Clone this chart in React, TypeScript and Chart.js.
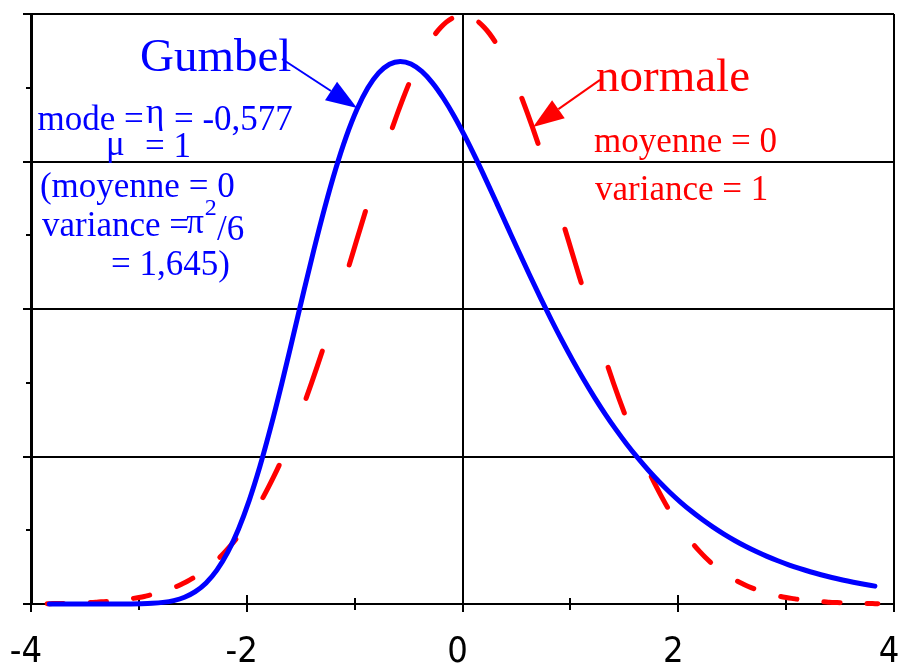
import React, { useEffect, useRef } from "react";
import { Chart, registerables } from "chart.js";

Chart.register(...registerables);

const BLUE = "#0000ff";
const RED = "#ff0000";
const CLEAR = "rgba(0,0,0,0)";
const SERIF = "'Liberation Serif', 'Times New Roman', serif";
const TICK_FONT = "'Liberation Sans Narrow', 'DejaVu Sans Condensed', 'Liberation Sans', Arial, sans-serif";

// Gumbel density (mode -0.577, scale 1)
const gumbelX = [
  -3.83, -3.777, -3.677, -3.577, -3.477, -3.377, -3.277, -3.177, -3.077, -2.977, -2.877,
  -2.777, -2.677, -2.577, -2.477, -2.377, -2.277, -2.177, -2.077, -1.977, -1.877,
  -1.777, -1.677, -1.577, -1.477, -1.377, -1.277, -1.177, -1.077, -0.977, -0.877,
  -0.777, -0.677, -0.577, -0.477, -0.377, -0.277, -0.177, -0.077, 0.023, 0.123,
  0.223, 0.323, 0.423, 0.523, 0.623, 0.723, 0.823, 0.923, 1.023, 1.123,
  1.223, 1.323, 1.423, 1.523, 1.623, 1.723, 1.823, 1.923, 2.023, 2.123,
  2.223, 2.323, 2.423, 2.523, 2.623, 2.723, 2.823, 2.923, 3.023, 3.123,
  3.223, 3.323, 3.423, 3.523, 3.623, 3.723, 3.823,
];
const gumbelY = [
  0, 0, 0, 0, 0, 0, 0.00001, 0.00002, 0.00006, 0.00018, 0.00047,
  0.00109, 0.00232, 0.00457, 0.00835, 0.01426, 0.02294, 0.03496, 0.0507, 0.07028, 0.09354,
  0.12003, 0.14895, 0.17938, 0.21025, 0.24036, 0.26876, 0.29462, 0.31705, 0.33557, 0.34997,
  0.36006, 0.36598, 0.36788, 0.36614, 0.36106, 0.35317, 0.34288, 0.33071, 0.31701, 0.30224,
  0.2867, 0.27075, 0.25465, 0.23862, 0.22287, 0.20753, 0.19271, 0.17851, 0.16499, 0.15218,
  0.14012, 0.12879, 0.11821, 0.10834, 0.09918, 0.09069, 0.08285, 0.07561, 0.06895, 0.06284,
  0.05722, 0.05208, 0.04737, 0.04307, 0.03913, 0.03555, 0.03227, 0.0293, 0.02658, 0.02412,
  0.02188, 0.01983, 0.01799, 0.0163, 0.01478, 0.01339, 0.01213,
];

// Normal density (mean 0, variance 1)
const normalX = [
  -3.85, -3.8, -3.75, -3.7, -3.65, -3.6, -3.55, -3.5, -3.45, -3.4, -3.35, -3.3, -3.25, -3.2,
  -3.15, -3.1, -3.05, -3, -2.95, -2.9, -2.85, -2.8, -2.75, -2.7, -2.65, -2.6, -2.55, -2.5,
  -2.45, -2.4, -2.35, -2.3, -2.25, -2.2, -2.15, -2.1, -2.05, -2, -1.95, -1.9, -1.85, -1.8,
  -1.75, -1.7, -1.65, -1.6, -1.55, -1.5, -1.45, -1.4, -1.35, -1.3, -1.25, -1.2, -1.15, -1.1,
  -1.05, -1, -0.95, -0.9, -0.85, -0.8, -0.75, -0.7, -0.65, -0.6, -0.55, -0.5, -0.45, -0.4,
  -0.35, -0.3, -0.25, -0.2, -0.15, -0.1, -0.05, 0, 0.05, 0.1, 0.15, 0.2, 0.25, 0.3,
  0.35, 0.4, 0.45, 0.5, 0.55, 0.6, 0.65, 0.7, 0.75, 0.8, 0.85, 0.9, 0.95, 1,
  1.05, 1.1, 1.15, 1.2, 1.25, 1.3, 1.35, 1.4, 1.45, 1.5, 1.55, 1.6, 1.65, 1.7,
  1.75, 1.8, 1.85, 1.9, 1.95, 2, 2.05, 2.1, 2.15, 2.2, 2.25, 2.3, 2.35, 2.4,
  2.45, 2.5, 2.55, 2.6, 2.65, 2.7, 2.75, 2.8, 2.85, 2.9, 2.95, 3, 3.05, 3.1,
  3.15, 3.2, 3.25, 3.3, 3.35, 3.4, 3.45, 3.5, 3.55, 3.6, 3.65, 3.7, 3.75, 3.8, 3.85,
];
const normalY = [
  0.0002, 0.0003, 0.0004, 0.0004, 0.0005, 0.0006, 0.0007, 0.0009, 0.001, 0.0012, 0.0015, 0.0017, 0.002, 0.0024,
  0.0028, 0.0033, 0.0038, 0.0044, 0.0051, 0.006, 0.0069, 0.0079, 0.0091, 0.0104, 0.0119, 0.0136, 0.0154, 0.0175,
  0.0198, 0.0224, 0.0252, 0.0283, 0.0317, 0.0355, 0.0396, 0.044, 0.0488, 0.054, 0.0596, 0.0656, 0.0721, 0.079,
  0.0863, 0.094, 0.1023, 0.1109, 0.12, 0.1295, 0.1394, 0.1497, 0.1604, 0.1714, 0.1826, 0.1942, 0.2059, 0.2179,
  0.2299, 0.242, 0.2541, 0.2661, 0.278, 0.2897, 0.3011, 0.3123, 0.323, 0.3332, 0.3429, 0.3521, 0.3605, 0.3683,
  0.3752, 0.3814, 0.3867, 0.391, 0.3945, 0.397, 0.3984, 0.3989, 0.3984, 0.397, 0.3945, 0.391, 0.3867, 0.3814,
  0.3752, 0.3683, 0.3605, 0.3521, 0.3429, 0.3332, 0.323, 0.3123, 0.3011, 0.2897, 0.278, 0.2661, 0.2541, 0.242,
  0.2299, 0.2179, 0.2059, 0.1942, 0.1826, 0.1714, 0.1604, 0.1497, 0.1394, 0.1295, 0.12, 0.1109, 0.1023, 0.094,
  0.0863, 0.079, 0.0721, 0.0656, 0.0596, 0.054, 0.0488, 0.044, 0.0396, 0.0355, 0.0317, 0.0283, 0.0252, 0.0224,
  0.0198, 0.0175, 0.0154, 0.0136, 0.0119, 0.0104, 0.0091, 0.0079, 0.0069, 0.006, 0.0051, 0.0044, 0.0038, 0.0033,
  0.0028, 0.0024, 0.002, 0.0017, 0.0015, 0.0012, 0.001, 0.0009, 0.0007, 0.0006, 0.0005, 0.0004, 0.0004, 0.0003, 0.0002,
];

const xTickValues = [-4, -2, 0, 2, 4];
const xTickLabels = ["-4", "-2", "0", "2", "4"];

// Annotations (placed in data coordinates)
type Note = { text: string; x: number; y: number; size: number; color: string };
const notes: Note[] = [
  { text: "Gumbel", x: -2.99, y: 0.3614, size: 47, color: BLUE },
  { text: "mode =", x: -3.94, y: 0.3214, size: 35, color: BLUE },
  { text: "η", x: -2.935, y: 0.3261, size: 35, color: BLUE },
  { text: "= -0,577", x: -2.675, y: 0.3214, size: 35, color: BLUE },
  { text: "μ", x: -3.304, y: 0.3044, size: 35, color: BLUE },
  { text: "= 1", x: -2.943, y: 0.3031, size: 35, color: BLUE },
  { text: "(moyenne = 0", x: -3.917, y: 0.2759, size: 35, color: BLUE },
  { text: "variance =", x: -3.898, y: 0.2495, size: 35, color: BLUE },
  { text: "π", x: -2.56, y: 0.2515, size: 35, color: BLUE },
  { text: "2", x: -2.39, y: 0.2637, size: 24, color: BLUE },
  { text: "/6", x: -2.275, y: 0.2468, size: 35, color: BLUE },
  { text: "= 1,645)", x: -3.258, y: 0.2231, size: 35, color: BLUE },
  { text: "normale", x: 1.2376, y: 0.3478, size: 47, color: RED },
  { text: "moyenne = 0", x: 1.219, y: 0.3064, size: 35, color: RED },
  { text: "variance = 1", x: 1.228, y: 0.2739, size: 35, color: RED },
];

type Arrow = { x0: number; y0: number; x1: number; y1: number; color: string };
const arrows: Arrow[] = [
  { x0: -1.673, y0: 0.3695, x1: -0.978, y1: 0.3363, color: BLUE },
  { x0: 1.275, y0: 0.3553, x1: 0.654, y1: 0.3234, color: RED },
];

const isMajorY = (v: number) => Math.abs(v * 10 - Math.round(v * 10)) < 1e-6;

const decorPlugin = {
  id: "decor",
  beforeDatasetsDraw(chart: any) {
    const { ctx, chartArea: a, scales } = chart;
    const xs = scales.x;
    const ys = scales.y;
    ctx.save();
    ctx.strokeStyle = "#000";
    ctx.lineWidth = 2;
    ctx.beginPath();
    xs.ticks.forEach((t: any) => {
      const px = Math.round(xs.getPixelForValue(t.value));
      const major = Math.abs(t.value % 2) < 1e-9;
      ctx.moveTo(px, a.bottom - (major ? 9 : 6));
      ctx.lineTo(px, a.bottom + (major ? 8 : 6));
    });
    ys.ticks.forEach((t: any) => {
      const py = Math.round(ys.getPixelForValue(t.value));
      const major = isMajorY(t.value);
      ctx.moveTo(a.left - (major ? 8 : 5), py);
      ctx.lineTo(a.left, py);
    });
    ctx.stroke();
    ctx.restore();
  },
  afterDraw(chart: any) {
    const { ctx, scales } = chart;
    const xs = scales.x;
    const ys = scales.y;
    ctx.save();
    ctx.textAlign = "left";
    ctx.textBaseline = "alphabetic";
    notes.forEach((n) => {
      ctx.font = `${n.size}px ${SERIF}`;
      ctx.fillStyle = n.color;
      ctx.fillText(n.text, xs.getPixelForValue(n.x), ys.getPixelForValue(n.y));
    });
    arrows.forEach((ar) => {
      const x0 = xs.getPixelForValue(ar.x0);
      const y0 = ys.getPixelForValue(ar.y0);
      const x1 = xs.getPixelForValue(ar.x1);
      const y1 = ys.getPixelForValue(ar.y1);
      const ang = Math.atan2(y1 - y0, x1 - x0);
      const len = 31;
      const half = 11;
      const bx = x1 - len * Math.cos(ang);
      const by = y1 - len * Math.sin(ang);
      ctx.strokeStyle = ar.color;
      ctx.fillStyle = ar.color;
      ctx.lineWidth = 2;
      ctx.beginPath();
      ctx.moveTo(x0, y0);
      ctx.lineTo(bx, by);
      ctx.stroke();
      ctx.beginPath();
      ctx.moveTo(x1, y1);
      ctx.lineTo(bx + half * Math.sin(ang), by - half * Math.cos(ang));
      ctx.lineTo(bx - half * Math.sin(ang), by + half * Math.cos(ang));
      ctx.closePath();
      ctx.fill();
    });
    ctx.restore();
  },
};

export default function App() {
  const ref = useRef<HTMLCanvasElement | null>(null);

  useEffect(() => {
    if (!ref.current) return;
    const chart = new Chart(ref.current, {
      type: "line",
      data: {
        datasets: [
          {
            label: "Gumbel",
            data: gumbelX.map((x, i) => ({ x, y: gumbelY[i] })),
            borderColor: BLUE,
            borderWidth: 5,
            pointRadius: 0,
            cubicInterpolationMode: "monotone",
            borderCapStyle: "round",
            borderJoinStyle: "round",
            fill: false,
            clip: false,
          },
          {
            label: "normale",
            data: normalX.map((x, i) => ({ x, y: normalY[i] })),
            borderColor: RED,
            borderWidth: 5,
            pointRadius: 0,
            cubicInterpolationMode: "monotone",
            borderCapStyle: "round",
            borderJoinStyle: "round",
            fill: false,
            clip: false,
            segment: {
              borderColor: (c: any) => (c.p0DataIndex % 8 < 3 ? RED : CLEAR),
            },
          },
        ],
      } as any,
      options: {
        animation: false,
        responsive: false,
        devicePixelRatio: 1,
        layout: { padding: { top: 14, right: 6, bottom: 0, left: 0 } },
        plugins: { legend: { display: false }, tooltip: { enabled: false } },
        scales: {
          x: {
            type: "linear",
            min: -4,
            max: 4,
            ticks: {
              stepSize: 1,
              autoSkip: false,
              maxRotation: 0,
              padding: 19,
              labelOffset: -5,
              color: "#000",
              font: { family: TICK_FONT, size: 36 },
              callback: (v: any) => {
                const i = xTickValues.indexOf(Number(v));
                return i >= 0 ? xTickLabels[i] : "";
              },
            },
            grid: {
              color: (c: any) =>
                c.tick && [-4, 0, 4].includes(c.tick.value) ? "#000" : CLEAR,
              lineWidth: 2,
              tickLength: 8,
              tickColor: CLEAR,
            },
            border: { display: true, color: "#000", width: 2 },
            afterFit: (s: any) => {
              s.height = 62;
              s.paddingLeft = 0;
              s.paddingRight = 0;
            },
          },
          y: {
            type: "linear",
            min: 0,
            max: 0.4,
            ticks: { stepSize: 0.05, display: false },
            grid: {
              color: (c: any) => (c.tick && isMajorY(c.tick.value) ? "#000" : CLEAR),
              lineWidth: 2,
              tickLength: 8,
              tickColor: CLEAR,
            },
            border: { display: true, color: "#000", width: 3 },
            afterFit: (s: any) => {
              s.width = 31;
            },
          },
        },
      } as any,
      plugins: [decorPlugin],
    });
    return () => chart.destroy();
  }, []);

  return (
    <div style={{ position: "fixed", left: 0, top: 0, width: 900, height: 666, background: "#fff" }}>
      <canvas ref={ref} width={900} height={666} style={{ display: "block", width: 900, height: 666 }} />
    </div>
  );
}
